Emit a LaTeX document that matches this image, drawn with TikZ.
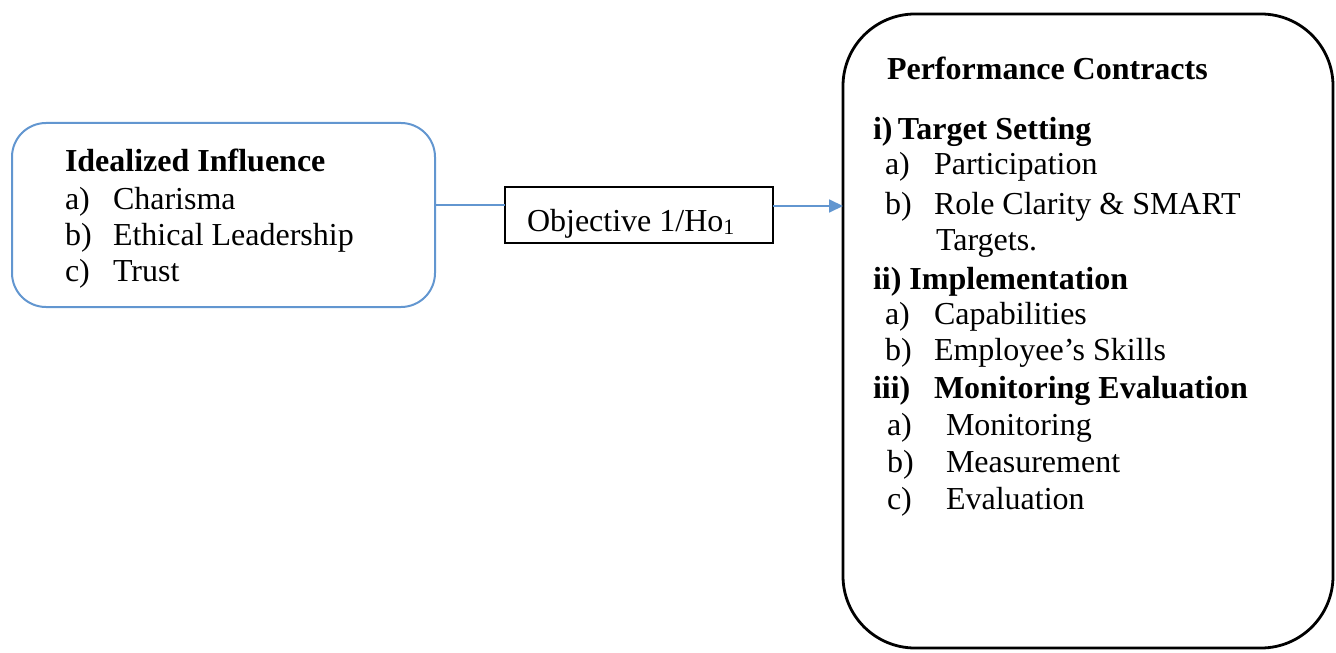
\documentclass[tikz,border=0pt]{standalone}
\usepackage{fontspec}
\setmainfont{Liberation Serif}
\usetikzlibrary{arrows.meta}
\definecolor{linkblue}{RGB}{98,150,208}
\tikzset{
  every node/.style={inner sep=0pt, outer sep=0pt},
  txt/.style={anchor=base west, font=\fontsize{16}{18}\selectfont},
  bold/.style={txt, font=\fontsize{16}{18}\selectfont\bfseries},
  bluebox/.style={draw=linkblue, line width=1pt, rounded corners=17pt},
  pcbox/.style={draw=black, line width=1.4pt, rounded corners=36pt},
  objbox/.style={draw=black, line width=0.7pt},
  link/.style={draw=linkblue, line width=0.9pt},
  arrowlink/.style={link, -{Triangle[length=7pt,width=6.5pt]}}
}
\begin{document}
\begin{tikzpicture}[x=0.5pt, y=-0.5pt]
\useasboundingbox (0,0) rectangle (1336,652);

% boxes
\node[bluebox, minimum width=211.5pt, minimum height=92pt] (ii) at (223.5,215) {};
\node[objbox, minimum width=134pt, minimum height=28pt] (obj) at (639,215) {};
\node[pcbox, minimum width=245pt, minimum height=317pt] (pc) at (1088,331) {};

% connectors
\coordinate (ya) at (0,205);
\coordinate (yb) at (0,206);
\draw[link] (ii.east |- ya) -- (obj.west |- ya);
\draw[arrowlink] (obj.east |- yb) -- (pc.west |- yb);

% idealized influence
\node[bold] (t1) at (65,172) {Idealized Influence};
\node[txt] (a1) at (65,210) {a)};
\node[txt] (a1t) at (113,210) {Charisma};
\node[txt] (b1) at (65,245) {b)};
\node[txt] (b1t) at (113,245) {Ethical Leadership};
\node[txt] (c1) at (65,281) {c)};
\node[txt] (c1t) at (113,281) {Trust};

% objective label
\node[txt] (objt) at (527,231) {Objective 1/Ho\raisebox{-0.25ex}{\fontsize{11}{12}\selectfont 1}};

% performance contracts
\node[bold] (pt) at (887,80) {Performance Contracts};
\node[bold] (s1) at (873,140) {i)\,Target Setting};
\node[txt] (s1a) at (885,175) {a)};
\node[txt] (s1at) at (934,175) {Participation};
\node[txt] (s1b) at (885,214) {b)};
\node[txt] (s1bt) at (934,214) {Role Clarity \& SMART};
\node[txt] (s1bt2) at (936,250) {Targets.};
\node[bold] (s2) at (873,289) {ii) Implementation};
\node[txt] (s2a) at (885,324) {a)};
\node[txt] (s2at) at (934,324) {Capabilities};
\node[txt] (s2b) at (885,360) {b)};
\node[txt] (s2bt) at (934,360) {Employee’s Skills};
\node[bold] (s3) at (873,398) {iii)};
\node[bold] (s3t) at (934,398) {Monitoring Evaluation};
\node[txt] (s3a) at (887,435) {a)};
\node[txt] (s3at) at (946,435) {Monitoring};
\node[txt] (s3b) at (887,472) {b)};
\node[txt] (s3bt) at (946,472) {Measurement};
\node[txt] (s3c) at (887,509) {c)};
\node[txt] (s3ct) at (946,509) {Evaluation};
\end{tikzpicture}
\end{document}
